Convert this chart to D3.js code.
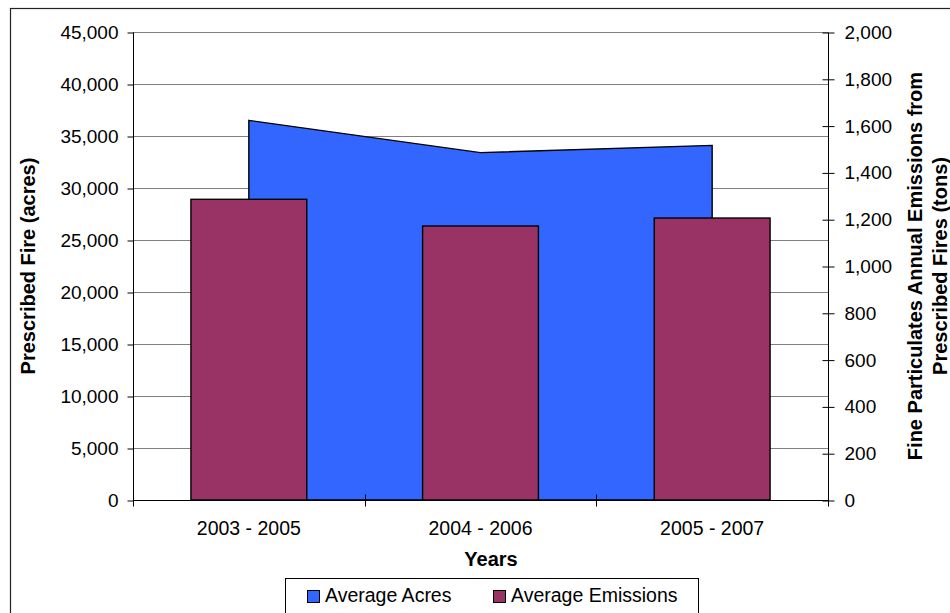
<!DOCTYPE html>
<html>
<head>
<meta charset="utf-8">
<script src="https://cdn.jsdelivr.net/npm/d3@7"></script>
<style>
  html, body { margin: 0; padding: 0; background: #fff; }
  svg { display: block; font-family: "Liberation Sans", Arial, sans-serif; }
</style>
</head>
<body>
<svg id="chart" width="950" height="613"></svg>
<script>
// Three-year rolling windows
const categories = ["2003 - 2005", "2004 - 2006", "2005 - 2007"];
// Average prescribed fire area (acres), left axis
const avgAcres = [36500, 33400, 34100];
// Average fine particulate emissions (tons), right axis
const avgEmissions = [1285, 1171, 1205];
// Axis ticks
const leftTicks = [0, 5000, 10000, 15000, 20000, 25000, 30000, 35000, 40000, 45000];
const rightTicks = [0, 200, 400, 600, 800, 1000, 1200, 1400, 1600, 1800, 2000];

const FONT = "Liberation Sans, Arial, sans-serif";
const svg = d3.select("#chart");
const plot = { left: 133, right: 828, top: 32, bottom: 500 };

const x = d3.scaleBand().domain(categories).range([plot.left, plot.right]).paddingInner(0).paddingOuter(0);
const yL = d3.scaleLinear().domain([0, 45000]).range([plot.bottom, plot.top]);
const yR = d3.scaleLinear().domain([0, 2000]).range([plot.bottom, plot.top]);
const fmt = d3.format(",");

// Outer frame
svg.append("rect").attr("x", 10.5).attr("y", 8.5).attr("width", 960).attr("height", 620)
  .attr("fill", "none").attr("stroke", "#222").attr("stroke-width", 1.2);

// Gridlines
svg.append("g").selectAll("line").data(leftTicks.filter(d => d > 0)).join("line")
  .attr("x1", plot.left).attr("x2", plot.right)
  .attr("y1", d => Math.round(yL(d)) + 0.5).attr("y2", d => Math.round(yL(d)) + 0.5)
  .attr("stroke", "#808080").attr("stroke-width", 1.2);

// Area series (acres)
const cx = d => x(d) + x.bandwidth() / 2;
const area = d3.area()
  .x((d, i) => cx(categories[i]))
  .y0(yL(0))
  .y1(d => yL(d));
svg.append("path").datum(avgAcres).attr("d", area)
  .attr("fill", "#3366FF").attr("stroke", "#000").attr("stroke-width", 1.4).attr("stroke-linejoin", "miter");

// Bar series (emissions)
const barW = x.bandwidth() / 2;
svg.append("g").selectAll("rect").data(avgEmissions).join("rect")
  .attr("x", (d, i) => cx(categories[i]) - barW / 2)
  .attr("width", barW)
  .attr("y", d => yR(d))
  .attr("height", d => yR(0) - yR(d))
  .attr("fill", "#993366").attr("stroke", "#000").attr("stroke-width", 1.4);

// Left axis
const leftAxis = d3.axisLeft(yL).tickValues(leftTicks).tickFormat(fmt).tickSize(6).tickPadding(9);
const gL = svg.append("g").attr("transform", `translate(${plot.left + 0.5},0.5)`).call(leftAxis);
gL.select(".domain").attr("d", `M0,${plot.top}V${plot.bottom}`);

// Right axis (ticks cross the line)
const rightAxis = d3.axisRight(yR).tickValues(rightTicks).tickFormat(fmt).tickSize(6).tickPadding(10);
const gR = svg.append("g").attr("transform", `translate(${plot.right + 0.5},0.5)`).call(rightAxis);
gR.select(".domain").attr("d", `M0,${plot.top}V${plot.bottom}`);
gR.selectAll(".tick line").attr("x1", -6);

// Bottom axis with ticks at category boundaries
const gB = svg.append("g").attr("transform", `translate(0,${plot.bottom + 0.5})`);
gB.append("line").attr("x1", plot.left).attr("x2", plot.right).attr("stroke", "#000");
const bounds = categories.map(c => x(c)).concat([x(categories[2]) + x.bandwidth()]);
gB.selectAll("line.tk").data(bounds).join("line").attr("class", "tk")
  .attr("x1", d => Math.round(d) + 0.5).attr("x2", d => Math.round(d) + 0.5)
  .attr("y1", -6).attr("y2", 6).attr("stroke", "#000");
gB.selectAll("text").data(categories).join("text")
  .attr("x", d => cx(d)).attr("y", 34.5)
  .attr("text-anchor", "middle").attr("font-size", 19.5).attr("font-family", FONT)
  .attr("fill", "#000").text(d => d);

[gL, gR].forEach(g => {
  g.attr("font-size", 19).attr("font-family", FONT);
  g.selectAll("text").attr("fill", "#000");
  g.selectAll("line, path").attr("stroke", "#000");
});

// Axis titles
svg.append("text").attr("transform", "translate(35,266) rotate(-90)")
  .attr("text-anchor", "middle").attr("font-size", 20).attr("font-weight", "bold").text("Prescribed Fire (acres)");
const rt = svg.append("text").attr("transform", "translate(921.5,266) rotate(-90)")
  .attr("text-anchor", "middle").attr("font-size", 20).attr("font-weight", "bold");
rt.append("tspan").attr("x", 0).attr("dy", 0).text("Fine Particulates Annual Emissions from");
rt.append("tspan").attr("x", 0).attr("dy", 25).text("Prescribed Fires (tons)");
svg.append("text").attr("x", 491).attr("y", 566)
  .attr("text-anchor", "middle").attr("font-size", 20).attr("font-weight", "bold").text("Years");

// Legend
const lg = svg.append("g");
lg.append("rect").attr("x", 285.5).attr("y", 578.5).attr("width", 413).attr("height", 40)
  .attr("fill", "#fff").attr("stroke", "#000");
const items = [
  { label: "Average Acres", color: "#3366FF", x: 307 },
  { label: "Average Emissions", color: "#993366", x: 493 }
];
items.forEach(it => {
  lg.append("rect").attr("x", it.x + 0.5).attr("y", 590.5).attr("width", 12).attr("height", 12)
    .attr("fill", it.color).attr("stroke", "#000");
  lg.append("text").attr("x", it.x + 18).attr("y", 602).attr("font-size", 19.5).attr("fill", "#000").text(it.label);
});
</script>
</body>
</html>
